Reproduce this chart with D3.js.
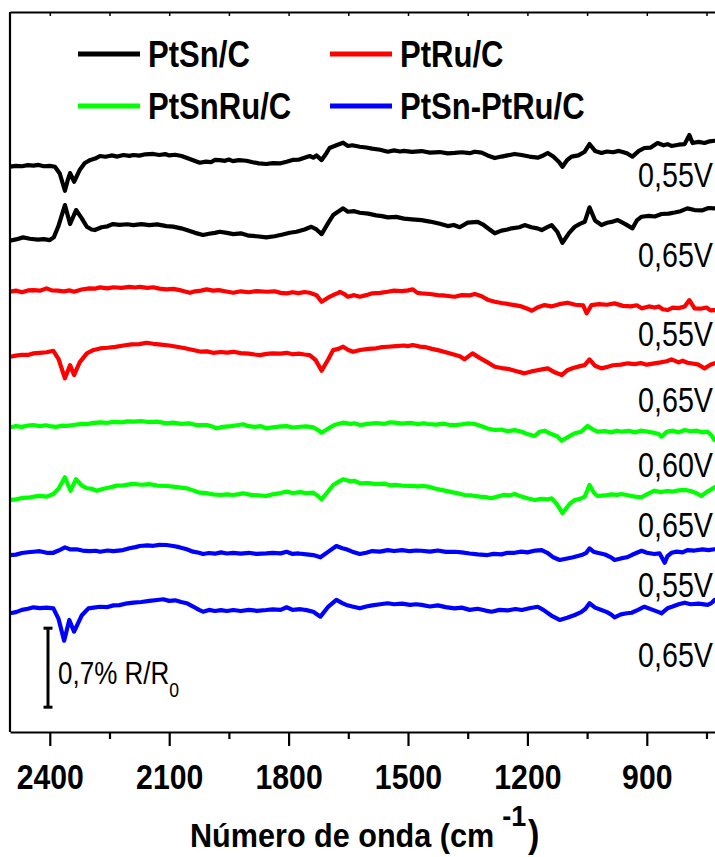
<!DOCTYPE html>
<html>
<head>
<meta charset="utf-8">
<script src="https://cdn.jsdelivr.net/npm/d3@7"></script>
<style>
  html, body { margin: 0; padding: 0; background: #fff; }
  svg { display: block; }
</style>
</head>
<body>
<svg id="chart" width="715" height="857"></svg>
<script>
// ---- data: in situ FTIR spectra, % R/R0, each relative to its own baseline ----
const seriesNames = ["PtSn/C", "PtRu/C", "PtSnRu/C", "PtSn-PtRu/C"];
const seriesColors = ["#000000", "#ff0000", "#00ff00", "#0000ff"];

const ptsn055 = [[2500,0],[2485,0.008],[2470,0.004],[2455,0.014],[2441,0.01],[2428,0.016],[2415,0.004],[2400,0.008],[2387,0],[2375,-0.06],[2362,-0.213],[2355,-0.12],[2349,-0.056],[2339,-0.133],[2325,-0.03],[2312,0.033],[2298,0.06],[2286,0.072],[2274,0.095],[2260,0.088],[2245,0.1],[2230,0.09],[2215,0.104],[2200,0.096],[2190,0.104],[2175,0.098],[2160,0.11],[2140,0.113],[2125,0.104],[2110,0.112],[2100,0.1],[2085,0.106],[2069,0.095],[2050,0.07],[2035,0.05],[2023,0.035],[2008,0.045],[1995,0.04],[1985,0.06],[1973,0.059],[1960,0.052],[1950,0.064],[1940,0.05],[1925,0.058],[1906,0.053],[1890,0.04],[1875,0.03],[1856,0.024],[1840,0.032],[1820,0.03],[1805,0.044],[1790,0.06],[1775,0.062],[1760,0.08],[1747,0.095],[1738,0.08],[1730,0.1],[1717,0.059],[1705,0.12],[1697,0.166],[1680,0.19],[1663,0.213],[1651,0.184],[1640,0.19],[1621,0.177],[1605,0.17],[1590,0.16],[1570,0.15],[1551,0.133],[1535,0.145],[1520,0.135],[1510,0.14],[1490,0.132],[1466,0.139],[1445,0.125],[1420,0.13],[1400,0.118],[1383,0.122],[1365,0.128],[1345,0.12],[1332,0.133],[1315,0.125],[1300,0.1],[1282,0.077],[1265,0.09],[1250,0.1],[1232,0.113],[1215,0.104],[1195,0.09],[1174,0.08],[1160,0.1],[1149,0.122],[1135,0.09],[1120,0.04],[1112,0],[1100,0.06],[1089,0.089],[1072,0.1],[1056,0.133],[1044,0.201],[1030,0.14],[1014,0.122],[1000,0.135],[985,0.128],[970,0.14],[963,0.133],[950,0.12],[936,0.089],[920,0.14],[906,0.166],[890,0.17],[873,0.21],[858,0.19],[848,0.2],[838,0.184],[820,0.195],[805,0.2],[793,0.281],[785,0.21],[770,0.22],[755,0.21],[742,0.225],[730,0.23]];
const ptsn065 = [[2500,0],[2485,0.012],[2467,0.03],[2450,0.018],[2430,0.01],[2415,0.015],[2400,0.006],[2390,0.03],[2379,0.124],[2362,0.316],[2349,0.148],[2334,0.272],[2320,0.2],[2307,0.124],[2295,0.1],[2287,0.095],[2270,0.12],[2255,0.128],[2241,0.148],[2225,0.14],[2205,0.146],[2190,0.139],[2170,0.148],[2150,0.138],[2130,0.145],[2107,0.13],[2090,0.125],[2070,0.11],[2056,0.095],[2035,0.07],[2015,0.051],[2000,0.062],[1985,0.07],[1973,0.08],[1955,0.07],[1939,0.059],[1920,0.066],[1900,0.045],[1880,0.04],[1856,0.03],[1835,0.04],[1815,0.055],[1797,0.071],[1780,0.08],[1760,0.1],[1743,0.124],[1730,0.1],[1717,0.059],[1700,0.16],[1688,0.228],[1675,0.26],[1663,0.287],[1651,0.257],[1635,0.262],[1621,0.248],[1600,0.24],[1580,0.225],[1565,0.218],[1551,0.207],[1530,0.212],[1510,0.196],[1490,0.19],[1466,0.183],[1445,0.17],[1420,0.15],[1400,0.13],[1385,0.14],[1370,0.12],[1350,0.16],[1325,0.168],[1310,0.14],[1295,0.1],[1282,0.066],[1265,0.09],[1250,0.1],[1240,0.11],[1220,0.12],[1207,0.139],[1190,0.12],[1175,0.11],[1164,0.095],[1150,0.12],[1139,0.139],[1125,0.08],[1112,-0.018],[1095,0.07],[1081,0.124],[1068,0.15],[1056,0.168],[1044,0.296],[1030,0.18],[1014,0.139],[1000,0.16],[985,0.17],[973,0.183],[955,0.15],[936,0.11],[925,0.18],[913,0.213],[895,0.22],[880,0.215],[863,0.237],[845,0.24],[830,0.25],[815,0.262],[798,0.287],[780,0.272],[760,0.27],[745,0.29],[730,0.287]];
const ptru055 = [[2500,0],[2485,0.01],[2470,-0.004],[2455,0.012],[2441,0.015],[2425,0.01],[2408,0.03],[2395,0.012],[2380,0.01],[2365,0.004],[2350,0.012],[2339,0],[2320,0.02],[2300,0.03],[2285,0.028],[2274,0.039],[2255,0.03],[2240,0.04],[2220,0.035],[2200,0.044],[2185,0.038],[2174,0.044],[2155,0.035],[2140,0.04],[2125,0.028],[2107,0.021],[2090,0.025],[2070,0.012],[2048,-0.009],[2035,0.004],[2020,0.01],[2006,0.021],[1990,0.01],[1975,0.014],[1960,0.004],[1939,-0.009],[1920,0.004],[1900,-0.004],[1880,0.006],[1856,0],[1835,0.004],[1820,-0.01],[1805,-0.014],[1790,-0.004],[1775,-0.012],[1760,-0.002],[1747,-0.009],[1730,-0.03],[1717,-0.089],[1700,-0.05],[1688,-0.029],[1675,-0.01],[1671,0],[1660,-0.02],[1651,-0.044],[1635,-0.03],[1621,-0.044],[1605,-0.03],[1590,-0.014],[1570,-0.01],[1551,0],[1535,0.01],[1515,0.005],[1500,0.012],[1488,0.021],[1476,-0.01],[1466,-0.014],[1445,-0.02],[1425,-0.03],[1405,-0.035],[1383,-0.044],[1365,-0.03],[1345,-0.032],[1332,-0.02],[1315,-0.04],[1300,-0.07],[1282,-0.089],[1265,-0.1],[1250,-0.108],[1232,-0.118],[1215,-0.13],[1200,-0.15],[1189,-0.168],[1175,-0.14],[1157,-0.118],[1140,-0.13],[1120,-0.11],[1099,-0.097],[1080,-0.115],[1060,-0.12],[1051,-0.191],[1039,-0.118],[1020,-0.11],[1000,-0.115],[981,-0.103],[960,-0.125],[940,-0.13],[925,-0.12],[913,-0.147],[895,-0.13],[880,-0.14],[870,-0.13],[860,-0.155],[848,-0.162],[835,-0.14],[820,-0.145],[805,-0.13],[793,-0.074],[780,-0.147],[765,-0.15],[750,-0.14],[740,-0.165],[730,-0.162]];
const ptru065 = [[2500,0],[2485,0.01],[2470,0.018],[2455,0.016],[2441,0.03],[2425,0.035],[2408,0.04],[2391,0.053],[2378,-0.02],[2362,-0.191],[2349,-0.074],[2339,-0.162],[2325,-0.05],[2307,0.03],[2290,0.06],[2274,0.074],[2255,0.08],[2235,0.088],[2215,0.1],[2195,0.11],[2175,0.112],[2157,0.124],[2140,0.115],[2120,0.108],[2100,0.1],[2081,0.089],[2060,0.075],[2040,0.06],[2020,0.045],[2005,0.048],[1990,0.035],[1970,0.042],[1955,0.036],[1939,0.044],[1920,0.032],[1900,0.028],[1885,0.02],[1872,0.015],[1855,0.025],[1840,0.03],[1820,0.028],[1805,0.035],[1790,0.022],[1775,0.028],[1760,0.02],[1747,0.015],[1732,-0.03],[1717,-0.124],[1700,-0.02],[1688,0.059],[1675,0.07],[1663,0.089],[1650,0.06],[1638,0.044],[1620,0.06],[1600,0.07],[1580,0.075],[1565,0.085],[1551,0.089],[1530,0.095],[1510,0.1],[1500,0.094],[1488,0.104],[1470,0.09],[1455,0.085],[1440,0.07],[1425,0.059],[1405,0.04],[1385,0.02],[1370,0.005],[1358,-0.023],[1338,0.03],[1320,-0.01],[1300,-0.05],[1282,-0.089],[1265,-0.1],[1245,-0.11],[1225,-0.13],[1207,-0.147],[1190,-0.13],[1175,-0.12],[1160,-0.11],[1149,-0.103],[1130,-0.14],[1114,-0.162],[1100,-0.12],[1085,-0.1],[1070,-0.085],[1056,-0.074],[1044,-0.023],[1030,-0.08],[1014,-0.103],[1000,-0.09],[985,-0.075],[965,-0.07],[948,-0.058],[930,-0.065],[915,-0.055],[900,-0.07],[881,-0.058],[865,-0.05],[850,-0.04],[838,-0.023],[820,-0.05],[810,-0.035],[798,-0.053],[785,-0.06],[770,-0.07],[755,-0.103],[740,-0.07],[730,-0.058]];
const ptsnru060 = [[2500,0],[2485,0.01],[2470,0.004],[2455,0.016],[2441,0.02],[2425,0.01],[2410,0.018],[2400,0.01],[2385,0.004],[2370,0.014],[2358,0.012],[2340,0.02],[2320,0.03],[2305,0.028],[2290,0.04],[2274,0.044],[2255,0.04],[2240,0.048],[2220,0.044],[2205,0.052],[2190,0.05],[2170,0.056],[2150,0.045],[2130,0.05],[2107,0.035],[2090,0.042],[2070,0.03],[2050,0.035],[2035,0.022],[2023,0.02],[2005,0.02],[1990,0.004],[1981,-0.009],[1965,0.004],[1945,0.01],[1930,0.018],[1914,0.027],[1900,0.01],[1885,0.004],[1870,0.01],[1856,-0.009],[1840,0],[1820,0.008],[1805,0.01],[1790,-0.002],[1772,0.005],[1755,0.008],[1738,0],[1728,-0.02],[1717,-0.048],[1700,-0.01],[1685,0.02],[1663,0.041],[1645,0.03],[1635,0.036],[1621,0.02],[1600,0.03],[1580,0.038],[1560,0.03],[1545,0.044],[1533,0.041],[1515,0.032],[1495,0.04],[1475,0.028],[1460,0.036],[1450,0.029],[1430,0.024],[1410,0.032],[1395,0.02],[1383,0.02],[1365,0.026],[1350,0.034],[1332,0.029],[1315,0.01],[1300,-0.01],[1282,-0.024],[1265,-0.02],[1250,-0.035],[1232,-0.025],[1214,-0.039],[1200,-0.06],[1182,-0.077],[1170,-0.04],[1157,-0.03],[1140,-0.06],[1125,-0.08],[1114,-0.119],[1100,-0.09],[1081,-0.053],[1065,-0.04],[1049,0.012],[1035,-0.02],[1024,-0.039],[1005,-0.034],[990,-0.045],[975,-0.03],[963,-0.039],[945,-0.032],[930,-0.045],[915,-0.03],[898,-0.039],[880,-0.05],[870,-0.06],[863,-0.083],[850,-0.04],[835,-0.03],[820,-0.045],[805,-0.024],[790,-0.035],[775,-0.03],[760,-0.045],[747,-0.039],[738,-0.07],[730,-0.113]];
const ptsnru065 = [[2500,0],[2485,0.005],[2470,0.018],[2455,0.02],[2441,0.029],[2425,0.036],[2408,0.03],[2391,0.053],[2378,0.1],[2362,0.201],[2348,0.082],[2334,0.184],[2320,0.13],[2307,0.104],[2295,0.1],[2282,0.082],[2265,0.1],[2250,0.11],[2232,0.127],[2215,0.13],[2200,0.138],[2190,0.142],[2170,0.135],[2150,0.14],[2130,0.128],[2107,0.124],[2090,0.118],[2070,0.11],[2056,0.104],[2040,0.085],[2023,0.065],[2005,0.06],[1990,0.05],[1973,0.044],[1955,0.05],[1940,0.044],[1925,0.052],[1914,0.059],[1895,0.045],[1875,0.04],[1856,0.035],[1840,0.05],[1820,0.062],[1805,0.074],[1790,0.062],[1770,0.07],[1755,0.06],[1738,0.065],[1728,0.04],[1717,0.006],[1700,0.08],[1688,0.133],[1675,0.16],[1663,0.184],[1645,0.165],[1635,0.17],[1621,0.148],[1600,0.15],[1580,0.14],[1560,0.145],[1545,0.13],[1533,0.133],[1515,0.128],[1495,0.125],[1475,0.12],[1460,0.124],[1450,0.118],[1430,0.1],[1410,0.085],[1390,0.07],[1375,0.06],[1358,0.044],[1340,0.04],[1320,0.03],[1305,0.025],[1290,0.015],[1275,0.03],[1260,0.045],[1245,0.04],[1232,0.053],[1215,0.03],[1200,0.015],[1182,0],[1165,0.01],[1150,0.005],[1139,0.015],[1125,-0.04],[1112,-0.118],[1095,-0.04],[1081,0],[1068,0.01],[1056,0.029],[1044,0.133],[1032,0.06],[1024,0.035],[1005,0.04],[990,0.05],[975,0.045],[963,0.053],[945,0.04],[930,0.03],[913,0.024],[900,0.05],[881,0.082],[865,0.07],[850,0.08],[835,0.075],[820,0.085],[805,0.089],[790,0.08],[775,0.06],[763,0.035],[750,0.07],[740,0.09],[730,0.113]];
const ptsnptru055 = [[2500,0],[2485,0.004],[2470,0.018],[2455,0.025],[2441,0.029],[2425,0.034],[2408,0.02],[2391,0.02],[2378,0.04],[2362,0.068],[2348,0.05],[2333,0.051],[2318,0.04],[2300,0.035],[2285,0.038],[2274,0.029],[2255,0.04],[2240,0.034],[2216,0.044],[2200,0.06],[2185,0.07],[2174,0.08],[2155,0.085],[2140,0.082],[2125,0.09],[2107,0.089],[2090,0.08],[2075,0.07],[2056,0.051],[2040,0.03],[2025,0.02],[2015,0.009],[2000,0.018],[1985,0.012],[1970,0.024],[1955,0.014],[1939,0.02],[1920,0.012],[1900,0.02],[1880,0.01],[1856,0.015],[1840,0.02],[1820,0.015],[1805,0.029],[1790,0.01],[1775,0.014],[1755,0.006],[1738,0],[1720,-0.02],[1700,0.03],[1680,0.08],[1665,0.06],[1655,0.051],[1640,0.03],[1621,0.009],[1605,0.02],[1590,0.035],[1570,0.03],[1551,0.044],[1535,0.036],[1515,0.044],[1495,0.034],[1480,0.04],[1466,0.038],[1445,0.03],[1425,0.04],[1405,0.028],[1383,0.029],[1365,0.024],[1345,0.014],[1325,0.006],[1300,0],[1285,0.01],[1265,0.006],[1250,0.02],[1232,0.02],[1215,0.03],[1200,0.024],[1180,0.04],[1164,0.044],[1150,0.02],[1135,-0.02],[1119,-0.044],[1100,-0.03],[1085,-0.02],[1064,0],[1052,0.02],[1044,0.059],[1034,0.03],[1024,0.02],[1005,0.005],[990,-0.02],[981,-0.044],[965,-0.03],[950,-0.02],[938,0],[925,0.02],[913,0.038],[900,0.02],[881,0.009],[868,0.015],[855,-0.068],[848,-0.01],[838,0.02],[825,0.03],[810,0.024],[798,0.044],[780,0.04],[760,0.05],[745,0.044],[730,0.051]];
const ptsnptru065 = [[2500,0],[2485,0.01],[2470,0.03],[2455,0.04],[2441,0.053],[2425,0.045],[2408,0.05],[2391,0.044],[2378,-0.05],[2364,-0.243],[2351,-0.059],[2339,-0.163],[2320,-0.02],[2303,0.044],[2290,0.05],[2274,0.058],[2255,0.055],[2240,0.07],[2225,0.072],[2210,0.085],[2190,0.094],[2170,0.1],[2150,0.11],[2130,0.118],[2115,0.124],[2100,0.11],[2085,0.115],[2070,0.1],[2056,0.089],[2040,0.06],[2025,0.03],[2015,0.014],[2000,0.03],[1985,0.02],[1970,0.028],[1955,0.02],[1939,0.029],[1920,0.02],[1900,0.03],[1880,0.022],[1856,0.029],[1840,0.035],[1820,0.03],[1805,0.053],[1790,0.03],[1770,0.036],[1755,0.028],[1738,0.014],[1720,-0.03],[1700,0.06],[1680,0.118],[1665,0.09],[1655,0.074],[1640,0.06],[1621,0.044],[1605,0.06],[1590,0.07],[1570,0.08],[1551,0.089],[1535,0.08],[1515,0.085],[1495,0.075],[1480,0.08],[1466,0.074],[1445,0.06],[1425,0.07],[1405,0.055],[1383,0.044],[1365,0.05],[1345,0.03],[1325,0.04],[1305,0.024],[1290,0.014],[1270,0.03],[1250,0.025],[1230,0.038],[1214,0.029],[1195,0.045],[1174,0.058],[1160,0.03],[1140,-0.02],[1119,-0.059],[1100,-0.04],[1081,-0.015],[1065,0.01],[1054,0.04],[1044,0.089],[1030,0.05],[1014,0.029],[1000,0.01],[990,-0.01],[981,-0.036],[965,-0.01],[950,0],[938,0.005],[922,0.03],[906,0.058],[885,0.03],[870,0.01],[863,0],[848,0.044],[835,0.06],[820,0.08],[805,0.094],[790,0.08],[770,0.085],[747,0.074],[738,0.09],[730,0.118]];

// stacking order top to bottom, catalyst index, potential label and vertical offset (% units)
const spectra = [ptsn055, ptsn065, ptru055, ptru065, ptsnru060, ptsnru065, ptsnptru055, ptsnptru065];
const spectrumSeries = [0, 0, 1, 1, 2, 2, 3, 3];
const potentials = ["0,55V", "0,65V", "0,55V", "0,65V", "0,60V", "0,65V", "0,55V", "0,65V"];
const offsets = [5.009, 4.353, 3.901, 3.325, 2.700, 2.056, 1.568, 1.052];

const majorTicks = [2400, 2100, 1800, 1500, 1200, 900];
const minorTicks = [2250, 1950, 1650, 1350, 1050, 750];
const scaleBarValue = 0.7;       // % R/R0
const scaleBarBase = 0.22;

// ---- layout ----
const plot = { left: 10, right: 726.4, top: 12, bottom: 732 };
const labelBaselines = [187, 267, 346, 412, 477, 537, 597, 667];

const svg = d3.select("#chart");
const x = d3.scaleLinear().domain([2500, 700]).range([plot.left, plot.right]);
const y = d3.scaleLinear().domain([0, 6.38]).range([plot.bottom, plot.top]);

const FONT = "Liberation Sans, Arial, Helvetica, sans-serif";

// narrow-looking text: ordinary sans compressed horizontally
function label(g, px, py, str, size, weight, sx, anchor) {
  return g.append("text")
    .attr("transform", `translate(${px},${py}) scale(${sx},1)`)
    .attr("font-family", FONT)
    .attr("font-size", size)
    .attr("font-weight", weight)
    .attr("text-anchor", anchor || "start")
    .attr("fill", "#000")
    .text(str);
}

svg.append("defs").append("clipPath").attr("id", "clip")
  .append("rect").attr("x", plot.left).attr("y", plot.top)
  .attr("width", plot.right - plot.left).attr("height", plot.bottom - plot.top);

// spectra
const line = d3.line()
  .x(d => x(d[0]))
  .y(d => d[1]);

const curves = svg.append("g").attr("clip-path", "url(#clip)");
spectra.forEach((s, i) => {
  const pts = s.map(d => [d[0], y(offsets[i] + d[1])]);
  curves.append("path")
    .attr("d", line(pts))
    .attr("fill", "none")
    .attr("stroke", seriesColors[spectrumSeries[i]])
    .attr("stroke-width", 4.2)
    .attr("stroke-linejoin", "round")
    .attr("stroke-linecap", "round");
});

// potential labels
spectra.forEach((s, i) => {
  label(svg, 638, labelBaselines[i], potentials[i], 35, "normal", 0.82);
});

// frame
svg.append("line").attr("x1", plot.left).attr("x2", plot.left)
  .attr("y1", plot.top).attr("y2", plot.bottom)
  .attr("stroke", "#000").attr("stroke-width", 2.2);
svg.append("line").attr("x1", plot.right).attr("x2", plot.right)
  .attr("y1", plot.top).attr("y2", plot.bottom)
  .attr("stroke", "#000").attr("stroke-width", 2.2);

// bottom axis: major ticks with labels, minor ticks
const bottomAxis = svg.append("g").attr("transform", `translate(0,${plot.bottom})`);
bottomAxis.call(d3.axisBottom(x).tickValues(majorTicks).tickSize(14).tickSizeOuter(0)
  .tickFormat(d3.format("d")));
bottomAxis.select(".domain").attr("stroke-width", 2.2);
bottomAxis.selectAll(".tick line").attr("stroke-width", 2.2);
bottomAxis.selectAll(".tick text")
  .attr("y", 57).attr("dy", null)
  .attr("transform", "scale(0.84,1)")
  .attr("font-family", FONT).attr("font-size", 36).attr("font-weight", "bold")
  .attr("fill", "#000");
const bottomMinor = svg.append("g").attr("transform", `translate(0,${plot.bottom})`);
bottomMinor.call(d3.axisBottom(x).tickValues(minorTicks).tickSize(7).tickSizeOuter(0).tickFormat(""));
bottomMinor.select(".domain").remove();
bottomMinor.selectAll(".tick line").attr("stroke-width", 2.2);

// top axis: short inward ticks
const topAxis = svg.append("g").attr("transform", `translate(0,${plot.top})`);
topAxis.call(d3.axisTop(x).tickValues(majorTicks.concat(minorTicks)).tickSize(-4).tickSizeOuter(0).tickFormat(""));
topAxis.select(".domain").attr("stroke-width", 2);
topAxis.selectAll(".tick line").attr("stroke-width", 1.5);

// axis title
const title = svg.append("text")
  .attr("transform", "translate(190,847) scale(0.9,1)")
  .attr("font-family", FONT).attr("font-size", 34).attr("font-weight", "bold")
  .attr("fill", "#000");
title.append("tspan").text("Número de onda (cm");
title.append("tspan").attr("dx", 9).attr("dy", -21).attr("font-size", 30).text("-1");
title.append("tspan").attr("dx", 2).attr("dy", 21).attr("font-size", 38).text(")");

// legend
const legend = svg.append("g");
const legendCols = [[78, 148], [330, 400]];
const legendRows = [54, 106];
const legendOrder = [0, 1, 2, 3];
legendOrder.forEach((k, j) => {
  const col = legendCols[j % 2], rowY = legendRows[Math.floor(j / 2)];
  legend.append("line")
    .attr("x1", col[0]).attr("x2", col[0] + 62)
    .attr("y1", rowY).attr("y2", rowY)
    .attr("stroke", seriesColors[k]).attr("stroke-width", 5);
  label(legend, col[1], rowY + 13, seriesNames[k], 37, "bold", 0.84);
});

// scale bar: 0.7 % R/R0
const sb = svg.append("g");
const sbX = 48;
const sbTop = y(scaleBarBase + scaleBarValue), sbBot = y(scaleBarBase);
sb.append("line").attr("x1", sbX).attr("x2", sbX).attr("y1", sbTop).attr("y2", sbBot)
  .attr("stroke", "#000").attr("stroke-width", 3);
[sbTop, sbBot].forEach(v => {
  sb.append("line").attr("x1", sbX - 4.5).attr("x2", sbX + 4.5).attr("y1", v).attr("y2", v)
    .attr("stroke", "#000").attr("stroke-width", 3);
});
const sbText = sb.append("text")
  .attr("transform", `translate(58,684) scale(0.84,1)`)
  .attr("font-family", FONT).attr("font-size", 31).attr("fill", "#000");
sbText.append("tspan").text(`${String(scaleBarValue).replace(".", ",")}% R/R`);
sbText.append("tspan").attr("dy", 13).attr("font-size", 21).text("0");
</script>
</body>
</html>
